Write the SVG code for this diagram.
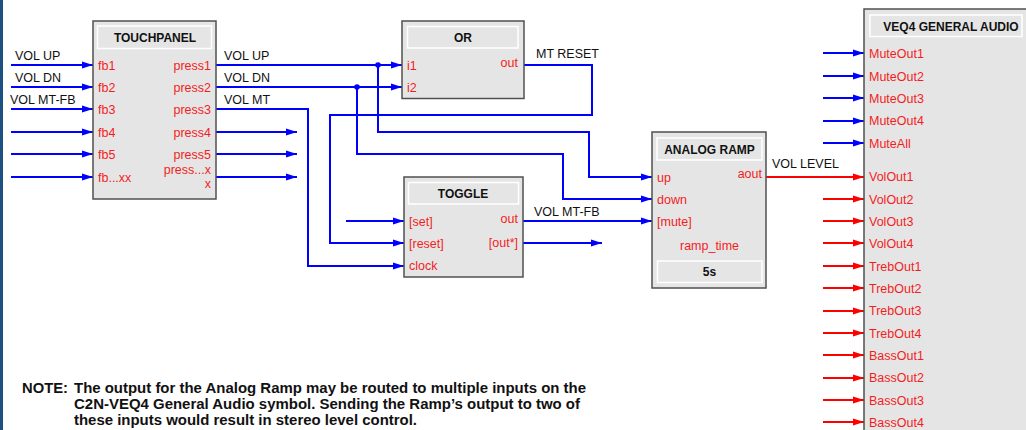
<svg xmlns="http://www.w3.org/2000/svg" width="1026" height="430" viewBox="0 0 1026 430">
<style>
.box{fill:#e5e5e5;stroke:#505050;stroke-width:1.5}
.bar{fill:#e5e5e5;stroke:#ffffff;stroke-width:1.5}
.ttl{font-family:"Liberation Sans",Arial,sans-serif;font-size:12px;font-weight:bold;fill:#111;text-anchor:middle}
.pin{font-family:"Liberation Sans",Arial,sans-serif;font-size:12.5px;fill:#f41d1d}
.pr{text-anchor:end}
.lbl{font-family:"Liberation Sans",Arial,sans-serif;font-size:12.5px;fill:#111}
.bw{fill:none;stroke:#0000ff;stroke-width:2}
.rw{fill:none;stroke:#ff0000;stroke-width:2}
.ba{marker-end:url(#ab)}
.ra{marker-end:url(#ar)}
.note{font-family:"Liberation Sans",Arial,sans-serif;font-size:14px;font-weight:bold;fill:#111}
</style>
<defs>
<marker id="ab" markerUnits="userSpaceOnUse" markerWidth="11" markerHeight="8" refX="11" refY="4" orient="auto"><path d="M0,0.5 L11,4 L0,7.5 z" fill="#0000ff"/></marker>
<marker id="ar" markerUnits="userSpaceOnUse" markerWidth="11" markerHeight="8" refX="11" refY="4" orient="auto"><path d="M0,0.5 L11,4 L0,7.5 z" fill="#ff0000"/></marker>
</defs>
<rect x="0" y="0" width="1026" height="430" fill="#ffffff"/>
<rect x="0" y="0" width="3" height="430" fill="#1d4f80"/>

<g id="connectors">
<path class="bw ba" d="M11,65 H93"/>
<path class="bw ba" d="M11,87 H93"/>
<path class="bw ba" d="M11,109 H93"/>
<path class="bw ba" d="M11,132 H93"/>
<path class="bw ba" d="M11,154 H93"/>
<path class="bw ba" d="M11,177 H93"/>
<text class="lbl" x="15" y="60">VOL UP</text>
<text class="lbl" x="15" y="82">VOL DN</text>
<text class="lbl" x="10" y="104">VOL MT-FB</text>
<path class="bw ba" d="M216,65 H402"/>
<path class="bw ba" d="M216,87 H402"/>
<path class="bw ba" d="M216,109 H308 V266 H404"/>
<path class="bw ba" d="M216,132 H297"/>
<path class="bw ba" d="M216,154 H297"/>
<path class="bw ba" d="M216,177 H297"/>
<text class="lbl" x="224" y="60">VOL UP</text>
<text class="lbl" x="224" y="82">VOL DN</text>
<text class="lbl" x="224" y="104">VOL MT</text>
<circle cx="378" cy="65" r="2.8" fill="#0000ff"/>
<circle cx="357" cy="87" r="2.8" fill="#0000ff"/>
<path class="bw ba" d="M378,65 V132 H589 V177 H652"/>
<path class="bw ba" d="M357,87 V154 H563 V199 H652"/>
<path class="bw ba" d="M524,65 H592 V115 H330 V243 H404"/>
<text class="lbl" x="536" y="58">MT RESET</text>
<path class="bw ba" d="M346,221 H404"/>
<path class="bw ba" d="M523,221 H652"/>
<path class="bw ba" d="M523,243 H602"/>
<text class="lbl" x="534" y="216">VOL MT-FB</text>
<path class="rw ra" d="M766,177 H864"/>
<text class="lbl" x="772" y="168">VOL LEVEL</text>
<path class="bw ba" d="M823,53 H864"/>
<path class="bw ba" d="M823,76 H864"/>
<path class="bw ba" d="M823,98 H864"/>
<path class="bw ba" d="M823,121 H864"/>
<path class="bw ba" d="M823,143 H864"/>
<path class="rw ra" d="M823,199 H864"/>
<path class="rw ra" d="M823,221 H864"/>
<path class="rw ra" d="M823,243 H864"/>
<path class="rw ra" d="M823,266 H864"/>
<path class="rw ra" d="M823,288 H864"/>
<path class="rw ra" d="M823,311 H864"/>
<path class="rw ra" d="M823,333 H864"/>
<path class="rw ra" d="M823,355 H864"/>
<path class="rw ra" d="M823,378 H864"/>
<path class="rw ra" d="M823,400 H864"/>
<path class="rw ra" d="M823,422 H864"/>
</g>

<g id="touchpanel">
<rect class="box" x="93" y="21" width="123" height="178"/>
<rect class="bar" x="97.5" y="26" width="114" height="22.5"/>
<text class="ttl" x="155" y="41.5">TOUCHPANEL</text>
<text class="pin" x="98" y="69.5">fb1</text>
<text class="pin" x="98" y="91.5">fb2</text>
<text class="pin" x="98" y="113.5">fb3</text>
<text class="pin" x="98" y="136.5">fb4</text>
<text class="pin" x="98" y="158.5">fb5</text>
<text class="pin" x="98" y="181.5">fb...xx</text>
<text class="pin pr" x="211" y="69.5">press1</text>
<text class="pin pr" x="211" y="91.5">press2</text>
<text class="pin pr" x="211" y="113.5">press3</text>
<text class="pin pr" x="211" y="136.5">press4</text>
<text class="pin pr" x="211" y="158.5">press5</text>
<text class="pin pr" x="211" y="173.5">press...x</text>
<text class="pin pr" x="211" y="188">x</text>
</g>

<g id="or">
<rect class="box" x="402" y="21" width="122" height="77.5"/>
<rect class="bar" x="407.5" y="26.5" width="110.5" height="21.5"/>
<text class="ttl" x="463" y="41.5">OR</text>
<text class="pin" x="407" y="69.5">i1</text>
<text class="pin" x="407" y="91.5">i2</text>
<text class="pin pr" x="518" y="66.5">out</text>
</g>

<g id="toggle">
<rect class="box" x="404" y="177" width="119" height="100"/>
<rect class="bar" x="408.5" y="182.5" width="110" height="21.5"/>
<text class="ttl" x="463" y="197.5">TOGGLE</text>
<text class="pin" x="409" y="225.5">[set]</text>
<text class="pin" x="409" y="247.5">[reset]</text>
<text class="pin" x="409" y="270">clock</text>
<text class="pin pr" x="518" y="222.5">out</text>
<text class="pin pr" x="518" y="247">[out*]</text>
</g>

<g id="analog-ramp">
<rect class="box" x="652" y="132" width="114" height="156"/>
<rect class="bar" x="657" y="138" width="105" height="22"/>
<text class="ttl" x="709.5" y="153.5">ANALOG RAMP</text>
<text class="pin" x="657" y="181.5">up</text>
<text class="pin" x="657" y="203.5">down</text>
<text class="pin" x="657" y="225.5">[mute]</text>
<text class="pin pr" x="762" y="178">aout</text>
<text class="pin" x="709.5" y="250" text-anchor="middle">ramp_time</text>
<rect class="bar" x="657.5" y="261" width="104.5" height="21.5"/>
<text class="ttl" x="709.5" y="276">5s</text>
</g>

<g id="veq4-general-audio">
<rect class="box" x="864" y="9" width="170" height="430"/>
<rect class="bar" x="870" y="15" width="152" height="21.5"/>
<text class="ttl" x="951" y="30.5">VEQ4 GENERAL AUDIO</text>
<text class="pin" x="869" y="57.5">MuteOut1</text>
<text class="pin" x="869" y="80.5">MuteOut2</text>
<text class="pin" x="869" y="102.5">MuteOut3</text>
<text class="pin" x="869" y="125">MuteOut4</text>
<text class="pin" x="869" y="147.5">MuteAll</text>
<text class="pin" x="869" y="181">VolOut1</text>
<text class="pin" x="869" y="203.5">VolOut2</text>
<text class="pin" x="869" y="225.5">VolOut3</text>
<text class="pin" x="869" y="247.5">VolOut4</text>
<text class="pin" x="869" y="270.5">TrebOut1</text>
<text class="pin" x="869" y="292.5">TrebOut2</text>
<text class="pin" x="869" y="315">TrebOut3</text>
<text class="pin" x="869" y="337.5">TrebOut4</text>
<text class="pin" x="869" y="359.5">BassOut1</text>
<text class="pin" x="869" y="382">BassOut2</text>
<text class="pin" x="869" y="404.5">BassOut3</text>
<text class="pin" x="869" y="426.5">BassOut4</text>
</g>

<g id="note">
<text class="note" x="22" y="393" textLength="46" lengthAdjust="spacingAndGlyphs">NOTE:</text>
<text class="note" x="74" y="393" textLength="512" lengthAdjust="spacingAndGlyphs">The output for the Analog Ramp may be routed to multiple inputs on the</text>
<text class="note" x="74" y="409" textLength="506" lengthAdjust="spacingAndGlyphs">C2N-VEQ4 General Audio symbol. Sending the Ramp’s output to two of</text>
<text class="note" x="74" y="425" textLength="343" lengthAdjust="spacingAndGlyphs">these inputs would result in stereo level control.</text>
</g>
</svg>
